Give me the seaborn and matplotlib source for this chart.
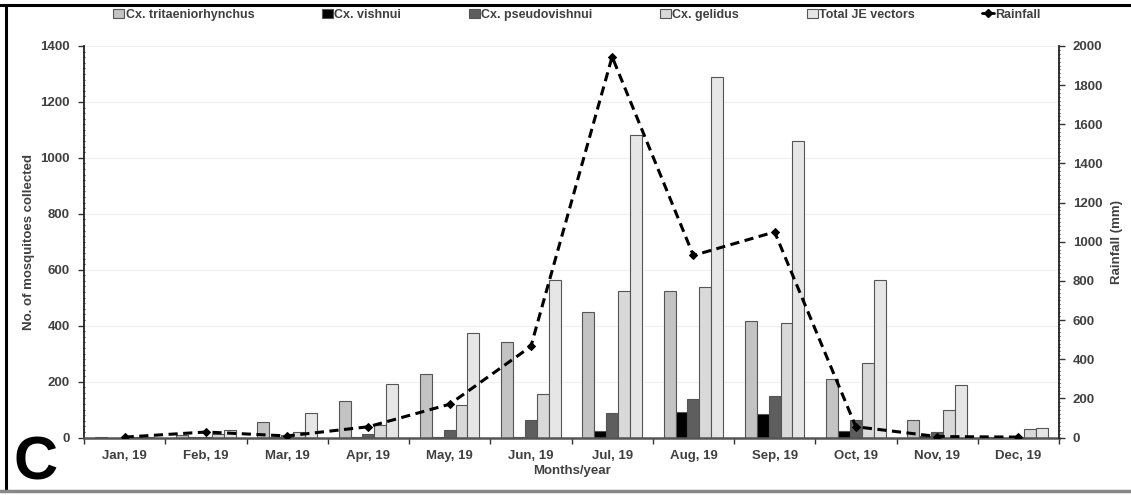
import numpy as np
import pandas as pd
import matplotlib
matplotlib.use("Agg")
import matplotlib.pyplot as plt
from matplotlib.lines import Line2D
from matplotlib.ticker import MultipleLocator, FixedLocator
import seaborn as sns

months = ["Jan, 19", "Feb, 19", "Mar, 19", "Apr, 19", "May, 19", "Jun, 19",
          "Jul, 19", "Aug, 19", "Sep, 19", "Oct, 19", "Nov, 19", "Dec, 19"]
tritaeniorhynchus = [2, 10, 55, 132, 226, 340, 447, 523, 416, 208, 63, 3]
vishnui = [0, 2, 3, 3, 2, 3, 22, 92, 85, 25, 5, 0]
pseudovishnui = [0, 3, 8, 12, 28, 64, 88, 138, 149, 63, 21, 1]
gelidus = [1, 12, 20, 43, 118, 155, 525, 537, 410, 268, 98, 30]
total_je = [3, 27, 86, 190, 374, 562, 1082, 1290, 1060, 564, 187, 34]
rainfall = [2, 28, 8, 55, 170, 465, 1945, 930, 1050, 55, 5, 2]

series_names = ["Cx. tritaeniorhynchus", "Cx. vishnui", "Cx. pseudovishnui",
                "Cx. gelidus", "Total JE vectors"]
series_vals = [tritaeniorhynchus, vishnui, pseudovishnui, gelidus, total_je]
colors = ["#c3c3c3", "#000000", "#5e5e5e", "#d9d9d9", "#e6e6e6"]

rows = []
for name, vals in zip(series_names, series_vals):
    for m, v in zip(months, vals):
        rows.append({"month": m, "count": v, "species": name})
df = pd.DataFrame(rows)
rain_df = pd.DataFrame({"pos": np.arange(len(months)), "rain": rainfall})

sns.set_theme(style="white")
plt.rcParams["font.family"] = ["Liberation Sans", "DejaVu Sans"]
plt.rcParams["font.weight"] = "bold"
txt = "#404040"

fig = plt.figure(figsize=(11.31, 4.95), dpi=100)
ax = fig.add_axes([84 / 1131, 1 - 437.5 / 495, 975 / 1131, 391.5 / 495])

sns.barplot(data=df, x="month", y="count", hue="species", palette=colors,
            width=0.73, edgecolor="#555555", linewidth=0.8, ax=ax,
            hue_order=series_names, order=months, saturation=1, gap=0)

ax.set_xlim(-0.5, 11.5)
ax.set_ylim(0, 1400)
ax.yaxis.set_major_locator(MultipleLocator(200))
ax.yaxis.set_minor_locator(MultipleLocator(20))
ax.grid(axis="y", color="#efefef", lw=0.8)
ax.set_axisbelow(True)

ax.set_xticks(np.arange(12))
ax.set_xticklabels(months)
ax.xaxis.set_minor_locator(FixedLocator(np.arange(-0.5, 12, 1)))
ax.tick_params(axis="x", which="major", length=0, pad=9, labelsize=9.5, labelcolor=txt)
ax.tick_params(axis="x", which="minor", length=4, width=1, color="#333333", direction="out", bottom=True)
ax.tick_params(axis="y", which="major", length=4, width=1, color="#333333", direction="out",
               labelsize=9.5, labelcolor=txt, left=True, pad=6)
ax.tick_params(axis="y", which="minor", length=2, width=0.8, color="#333333", direction="inout", left=True)

for s in ["top", "right"]:
    ax.spines[s].set_visible(False)
ax.spines["left"].set_color("#222222")
ax.spines["left"].set_linewidth(1.3)
ax.spines["bottom"].set_color("#555555")
ax.spines["bottom"].set_linewidth(1.8)

ax.set_xlabel("Months/year", fontsize=9.5, color=txt, fontweight="bold", labelpad=2)
ax.set_ylabel("No. of mosquitoes collected", fontsize=9.5, color=txt, fontweight="bold", labelpad=4)

handles, labels = ax.get_legend_handles_labels()
if ax.get_legend() is not None:
    ax.get_legend().remove()

ax2 = ax.twinx()
sns.lineplot(data=rain_df, x="pos", y="rain", ax=ax2, color="black", lw=2.2,
             marker="D", markersize=4, markeredgecolor="black", legend=False)
ax2.lines[-1].set_dashes((3, 1.8))
ax2.set_ylim(0, 2000)
ax2.set_xlim(-0.5, 11.5)
ax2.yaxis.set_major_locator(MultipleLocator(200))
ax2.yaxis.set_minor_locator(MultipleLocator(20))
ax2.tick_params(axis="y", which="major", length=4, width=1, color="#333333", direction="out",
                labelsize=9.5, labelcolor=txt, right=True, pad=6)
ax2.tick_params(axis="y", which="minor", length=2, width=0.8, color="#333333", direction="inout", right=True)
for s in ["top", "left", "bottom"]:
    ax2.spines[s].set_visible(False)
ax2.spines["right"].set_color("#222222")
ax2.spines["right"].set_linewidth(1.3)
ax2.set_xlabel("")
ax2.set_ylabel("Rainfall (mm)", fontsize=9.5, color=txt, fontweight="bold", labelpad=6)
ax2.grid(False)

rain_handle = Line2D([], [], color="black", lw=2, marker="D", markersize=4)
handles = list(handles) + [rain_handle]
labels = list(labels) + ["Rainfall"]
fig.legend(handles, labels, loc="center", bbox_to_anchor=(0.51, 0.97), ncol=6,
           frameon=False, handlelength=0.9, handleheight=0.8,
           columnspacing=5.4, handletextpad=0.1, labelcolor=txt,
           prop={"weight": "bold", "size": 9})

fig.text(0.012, 0.005, "C", fontsize=44, fontweight="bold", color="black", ha="left", va="bottom")

fig.add_artist(Line2D([0, 1], [1 - 5 / 495, 1 - 5 / 495], color="black", lw=2.2, transform=fig.transFigure))
fig.add_artist(Line2D([6 / 1131, 6 / 1131], [1 - 5 / 495, 1 - 491 / 495], color="black", lw=2.2, transform=fig.transFigure))
fig.add_artist(Line2D([0, 1], [1 - 491 / 495, 1 - 491 / 495], color="#888888", lw=2.5, transform=fig.transFigure))

fig.savefig("out.png", dpi=100, facecolor="white")
